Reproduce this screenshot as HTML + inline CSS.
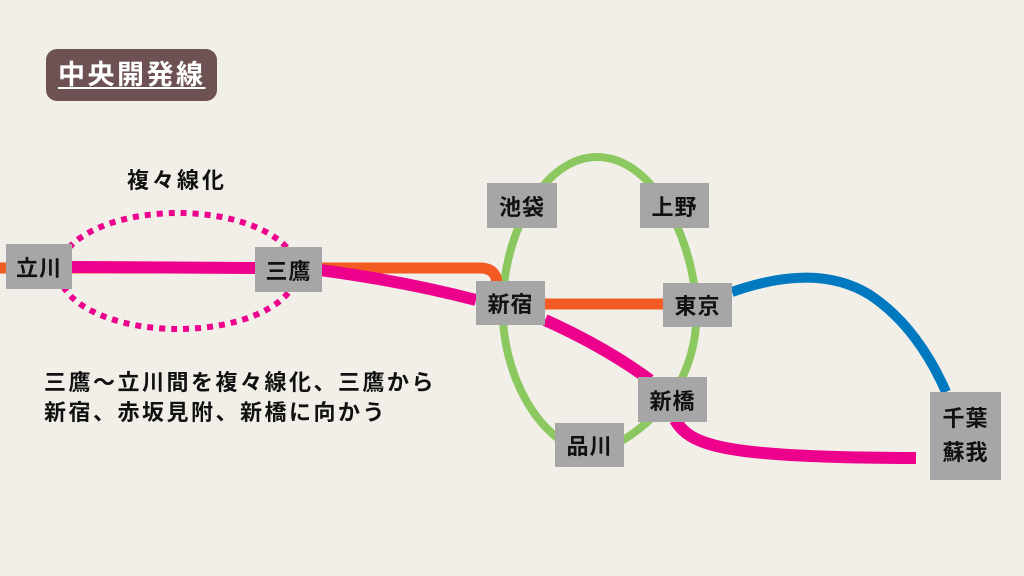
<!DOCTYPE html>
<html><head><meta charset="utf-8"><style>
html,body{margin:0;padding:0;background:#f2efe9;}
body{width:1024px;height:576px;overflow:hidden;position:relative;font-family:"Liberation Sans","Noto Sans CJK JP",sans-serif;}
svg{position:absolute;left:0;top:0}
.st{position:absolute;background:#a6a6a6;display:flex;align-items:center;justify-content:center;font-weight:bold;font-size:22px;color:#111;letter-spacing:1px}
.t{position:absolute;font-weight:bold;color:#111;white-space:nowrap}
</style></head><body>
<svg width="1024" height="576">
<g fill="none" stroke-linecap="butt">
<path d="M560 440 C520 410 500 350 503 300 C505 230 545 157 597 157 C650 157 690 230 696 300 C700 350 680 390 660 410 C640 430 625 440 610 447" stroke="#8bc960" stroke-width="8"/>
<path d="M0 268 L480 268 Q497 268 497 285" stroke="#f25c23" stroke-width="11"/>
<path d="M545 304 L665 304" stroke="#f25c23" stroke-width="11"/>
<path d="M72 267 L255 268" stroke="#ec008c" stroke-width="12"/>
<path d="M320 270 C380 278 430 288 476 300" stroke="#ec008c" stroke-width="12"/>
<path d="M545 320 C585 338 620 358 650 380" stroke="#ec008c" stroke-width="12"/>
<path d="M675 420 C690 445 720 458 916 458" stroke="#ec008c" stroke-width="12"/>
<path d="M732 292 C780 275 830 270 870 295 C905 318 930 355 946 392" stroke="#0079c1" stroke-width="10"/>
<ellipse cx="178" cy="271" rx="119" ry="58" stroke="#ec008c" stroke-width="6" stroke-dasharray="6 6"/>
</g></svg>
<div style="position:absolute;left:46px;top:49px;width:171px;height:52px;background:#6e5253;border-radius:11px;"></div>
<div class="t" style="left:58px;top:58px;font-size:27px;letter-spacing:2.5px;color:#fff;text-decoration:underline;text-underline-offset:3px;line-height:34px">中央開発線</div>
<div class="t" style="left:127px;top:167px;font-size:22px;letter-spacing:3px;line-height:28px">複々線化</div>
<div class="st" style="left:6px;top:244px;width:66px;height:45px">立川</div>
<div class="st" style="left:255px;top:247px;width:67px;height:45px">三鷹</div>
<div class="st" style="left:476px;top:281px;width:69px;height:44px">新宿</div>
<div class="st" style="left:487px;top:183px;width:70px;height:45px">池袋</div>
<div class="st" style="left:640px;top:183px;width:69px;height:45px">上野</div>
<div class="st" style="left:663px;top:283px;width:69px;height:44px">東京</div>
<div class="st" style="left:638px;top:377px;width:69px;height:45px">新橋</div>
<div class="st" style="left:555px;top:423px;width:69px;height:44px">品川</div>
<div class="st" style="left:930px;top:392px;width:71px;height:88px;flex-direction:column;line-height:34px">千葉<br>蘇我</div>
<div class="t" style="left:44px;top:368px;font-size:22px;letter-spacing:2.5px;line-height:30px">三鷹～立川間を複々線化、三鷹から<br>新宿、赤坂見附、新橋に向かう</div>
</body></html>
